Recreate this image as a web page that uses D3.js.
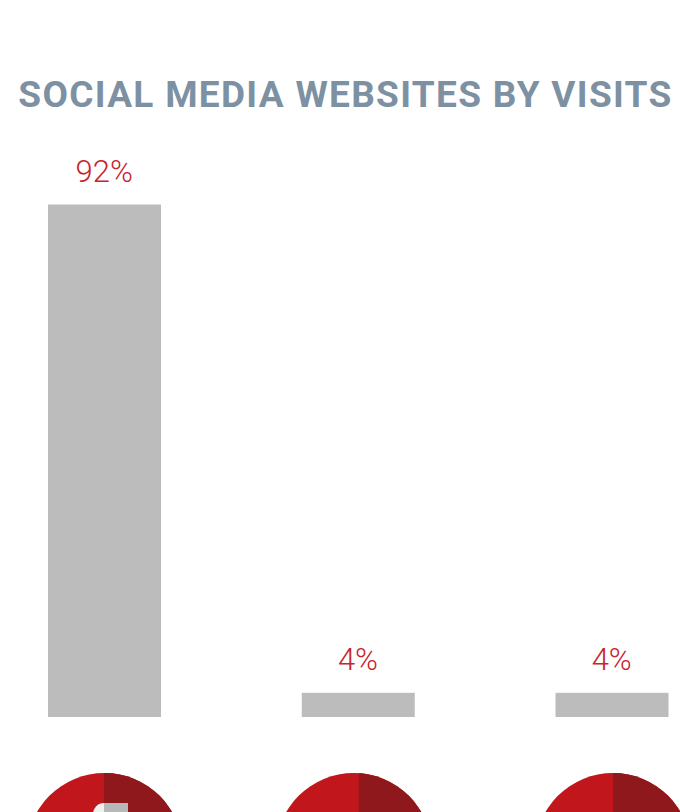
<!DOCTYPE html>
<html>
<head>
<meta charset="utf-8">
<script src="https://cdn.jsdelivr.net/npm/d3@7/dist/d3.min.js"></script>
<style>
  html, body { margin: 0; padding: 0; background: #fff; overflow: hidden; }
  svg { display: block; }
</style>
</head>
<body>
<script>
const chartTitle = "SOCIAL MEDIA WEBSITES BY VISITS";
const sites = ["first", "second", "third"];
const visitShare = [92, 4, 4];

const width = 680, height = 812;
const barTop = 204.5, barBase = 717, plinth = 2;

const svg = d3.select("body").append("svg")
  .attr("width", width).attr("height", height);

const x = d3.scaleBand()
  .domain(sites)
  .range([48, 668.5])
  .paddingInner(0.5547)
  .paddingOuter(0);

const barCentre = s => x(s) + x.bandwidth() / 2;

// Every bar stands on a small plinth below the zero line.
const y = d3.scaleLinear()
  .domain([0, d3.max(visitShare)])
  .range([barBase - plinth, barTop]);

svg.append("text")
  .attr("x", 345.5).attr("y", 107)
  .attr("text-anchor", "middle")
  .attr("font-family", "Roboto")
  .attr("font-weight", 700)
  .attr("font-size", 37)
  .attr("letter-spacing", 1.3)
  .attr("fill", "#7d91a3")
  .text(chartTitle);

const rows = sites.map((s, i) => ({ site: s, share: visitShare[i] }));

svg.selectAll("rect.bar").data(rows).join("rect")
  .attr("class", "bar")
  .attr("x", d => x(d.site))
  .attr("y", d => y(d.share))
  .attr("width", x.bandwidth())
  .attr("height", d => barBase - y(d.share))
  .attr("fill", "#bcbcbc");

svg.selectAll("text.value").data(rows).join("text")
  .attr("class", "value")
  .attr("x", d => barCentre(d.site) - 0.3)
  .attr("y", d => y(d.share) - 23)
  .attr("text-anchor", "middle")
  .attr("font-family", "Roboto")
  .attr("font-weight", 300)
  .attr("font-size", 31)
  .attr("fill", "#c8242c")
  .text(d => d.share + "%");

// Badge discs under each bar: a light disc with a dark part right of a seam.
// The discs and seams sit slightly off the bar centres.
const radius = 78, discY = 851;
const discNudge = { first: 0, second: -4.5, third: 1 };
const seamNudge = { first: -0.5, second: 0.5, third: 1 };

const defs = svg.append("defs");
rows.forEach(d => {
  defs.append("clipPath").attr("id", `seam-${d.site}`)
    .append("rect")
    .attr("x", barCentre(d.site) + seamNudge[d.site])
    .attr("y", discY - radius)
    .attr("width", radius * 2)
    .attr("height", radius * 2);
});

const badges = svg.selectAll("g.badge").data(rows).join("g")
  .attr("class", "badge");

badges.append("circle")
  .attr("cx", d => barCentre(d.site) + discNudge[d.site])
  .attr("cy", discY).attr("r", radius)
  .attr("fill", "#c1161c");
badges.append("circle")
  .attr("cx", d => barCentre(d.site) + discNudge[d.site])
  .attr("cy", discY).attr("r", radius)
  .attr("clip-path", d => `url(#seam-${d.site})`)
  .attr("fill", "#8f181c");

// Glyph peeking out of the first badge.
const first = svg.select("g.badge").append("g")
  .attr("transform", `translate(${barCentre("first") - 0.5},${discY})`);
first.append("path")
  .attr("transform", "translate(0,-37)")
  .attr("d", d3.arc().innerRadius(0).outerRadius(11)({ startAngle: -Math.PI / 2, endAngle: 0 }))
  .attr("fill", "#f0f0f0");
first.append("rect")
  .attr("x", 0).attr("y", -48).attr("width", 24).attr("height", 48)
  .attr("fill", "#b5b9b9");
</script>
</body>
</html>
